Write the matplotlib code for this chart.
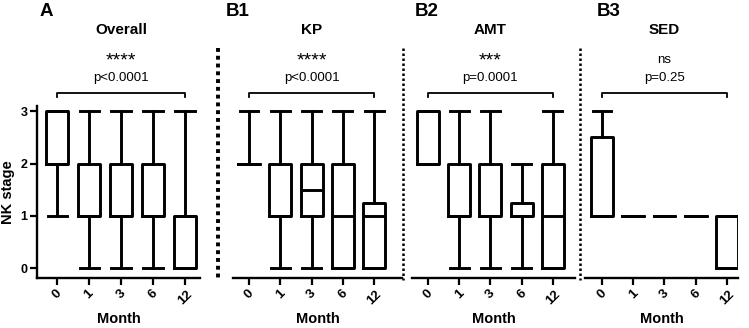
import matplotlib.pyplot as plt
from matplotlib.lines import Line2D

plt.rcParams['font.family'] = ['Liberation Sans', 'DejaVu Sans']

months = ['0', '1', '3', '6', '12']

# box statistics per panel (whisker low, Q1, median, Q3, whisker high)
overall_lo = [1, 0, 0, 0, 0]
overall_q1 = [2, 1, 1, 1, 0]
overall_med = [2, 1, 1, 1, 1]
overall_q3 = [3, 2, 2, 2, 1]
overall_hi = [3, 3, 3, 3, 3]

kp_lo = [2, 0, 0, 0, 0]
kp_q1 = [2, 1, 1, 0, 0]
kp_med = [2, 1, 1.5, 1, 1]
kp_q3 = [2, 2, 2, 2, 1.25]
kp_hi = [3, 3, 3, 3, 3]

amt_lo = [2, 0, 0, 0, 0]
amt_q1 = [2, 1, 1, 1, 0]
amt_med = [2, 1, 1, 1, 1]
amt_q3 = [3, 2, 2, 1.25, 2]
amt_hi = [3, 3, 3, 2, 3]

sed_lo = [1, 1, 1, 1, 0]
sed_q1 = [1, 1, 1, 1, 0]
sed_med = [1, 1, 1, 1, 0]
sed_q3 = [2.5, 1, 1, 1, 1]
sed_hi = [3, 1, 1, 1, 1]

panel_letters = ['A', 'B1', 'B2', 'B3']
panel_titles = ['Overall', 'KP', 'AMT', 'SED']
stars = ['****', '****', '***', 'ns']
pvalues = ['p<0.0001', 'p<0.0001', 'p=0.0001', 'p=0.25']

panels = [
    (overall_lo, overall_q1, overall_med, overall_q3, overall_hi),
    (kp_lo, kp_q1, kp_med, kp_q3, kp_hi),
    (amt_lo, amt_q1, amt_med, amt_q3, amt_hi),
    (sed_lo, sed_q1, sed_med, sed_q3, sed_hi),
]

# axes placement in pixels: left, right, xlim
W, H = 749, 328
ax_px = [(37, 200, (-0.63, 4.47)),
         (233, 402, (-0.51, 4.89)),
         (412, 575, (-0.51, 4.71)),
         (585, 738, (-0.54, 4.35))]
letter_x = [40, 226, 415, 597]
ylim = (-0.19, 3.1)
ax_top, ax_bottom = 106, 278

fig = plt.figure(figsize=(W / 100, H / 100), dpi=100)

lw = 2.1
for i, (lo, q1, med, q3, hi) in enumerate(panels):
    left, right, xl = ax_px[i]
    ax = fig.add_axes([left / W, 1 - ax_bottom / H, (right - left) / W,
                       (ax_bottom - ax_top) / H])
    stats = [dict(whislo=lo[k], q1=q1[k], med=med[k], q3=q3[k], whishi=hi[k])
             for k in range(len(months))]
    ax.bxp(stats, positions=range(len(months)), widths=0.7, capwidths=0.6,
           showfliers=False,
           boxprops=dict(color='black', linewidth=lw),
           whiskerprops=dict(color='black', linewidth=lw),
           capprops=dict(color='black', linewidth=lw),
           medianprops=dict(color='black', linewidth=lw,
                            solid_capstyle='butt'))
    ax.set_xlim(*xl)
    ax.set_ylim(*ylim)
    ax.set_xticks(range(len(months)))
    ax.set_xticklabels(months, rotation=45, ha='center', va='top',
                       fontsize=9.5, fontweight='bold')
    ax.tick_params(axis='x', length=5, width=1.6, pad=2)
    for s in ['top', 'right']:
        ax.spines[s].set_visible(False)
    ax.spines['bottom'].set_linewidth(1.7)
    if i == 0:
        ax.spines['left'].set_linewidth(1.7)
        ax.set_yticks([0, 1, 2, 3])
        ax.set_yticklabels(['0', '1', '2', '3'], fontsize=9,
                           fontweight='bold')
        ax.tick_params(axis='y', length=5, width=1.6, pad=2)
        ax.set_ylabel('NK stage', fontsize=10.5, fontweight='bold', labelpad=4)
    else:
        ax.spines['left'].set_visible(False)
        ax.set_yticks([])
    ax.set_xlabel('Month', fontsize=10.5, fontweight='bold', labelpad=4)

    # significance bracket
    ax.plot([0, 0, 4, 4], [3.27, 3.35, 3.35, 3.27], color='black', lw=1.3,
            clip_on=False)
    ax.text(2, 3.57, pvalues[i], ha='center', va='baseline', fontsize=9.5,
            clip_on=False)
    if stars[i] == 'ns':
        ax.text(2, 3.92, stars[i], ha='center', va='baseline', fontsize=9.5)
    else:
        ax.text(2, 3.88, stars[i], ha='center', va='baseline', fontsize=14)
    ax.text(2, 4.47, panel_titles[i], ha='center', va='baseline', fontsize=11,
            fontweight='bold')
    fig.text(letter_x[i] / W, 1 - 12 / H, panel_letters[i], ha='left',
             va='center', fontsize=13.5, fontweight='bold')

# dotted separators between panels
sep_x = [218, 403, 580]
sep_lw = [2.8, 1.8, 1.8]
for x, l in zip(sep_x, sep_lw):
    fig.add_artist(Line2D([x / W, x / W], [1 - 48 / H, 1 - 280 / H],
                          transform=fig.transFigure, color='black',
                          linestyle=(0, (1, 1)), linewidth=l))

fig.savefig('out.png', dpi=100)
